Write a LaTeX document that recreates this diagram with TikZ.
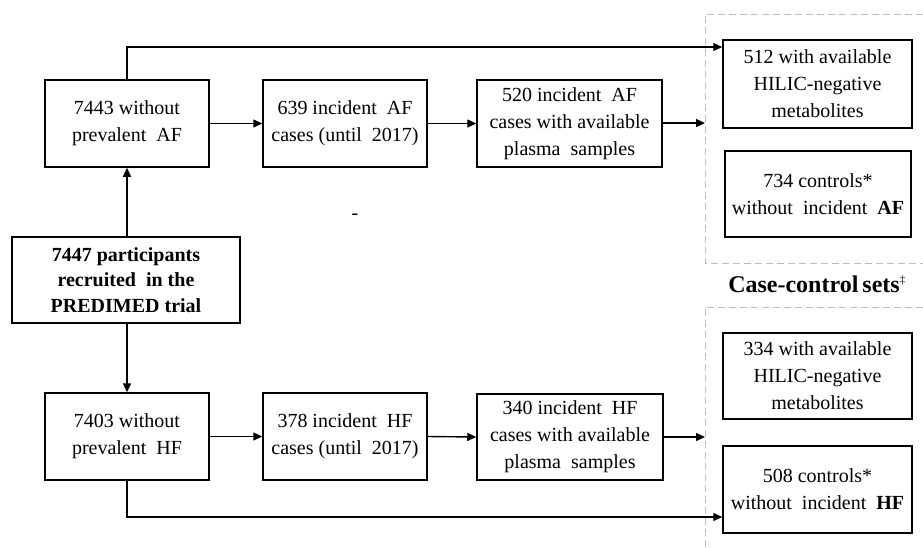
\documentclass[tikz,border=0pt]{standalone}
\usepackage{fontspec}
\setmainfont{Liberation Serif}
\usetikzlibrary{arrows.meta}
\begin{document}
\begin{tikzpicture}[x=1pt,y=-1pt,
  box/.style={draw=black,line width=1.5pt,align=center,inner sep=2pt,
    font=\fontsize{20}{27}\selectfont,minimum height=87pt},
  boldbox/.style={box,font=\fontsize{20}{25.5}\selectfont\bfseries},
  arr/.style={line width=1.4pt,-{Triangle[length=9pt,width=8pt]}},
  region/.style={draw=black!25,line width=0.9pt,dash pattern=on 7pt off 4pt}]
\useasboundingbox (0,0) rectangle (923,547);
% dashed regions
\draw[region] (923,14) -- (705,14) -- (705,263) -- (923,263);
\draw[region] (923,307) -- (705,307) -- (705,550);
% AF row
\node[box,minimum width=164pt] (A1) at (127,123.5) {7443 without\\prevalent\ \ AF};
\node[box,minimum width=164pt] (A2) at (345,123.5) {639 incident\ \ AF\\cases (until\ \ 2017)};
\node[box,minimum width=185pt] (A3) at (569.5,123.5) {520 incident\ \ AF\\cases with\ available\\plasma\ \ samples};
\node[box,minimum width=189pt,minimum height=88pt] (C1) at (817.5,84) {512 with\ available\\HILIC-negative\\metabolites};
\node[box,minimum width=186pt,minimum height=86pt] (C2) at (818,194) {734 controls*\\without\ \ incident\ \ \textbf{AF}};
% participants
\node[boldbox,minimum width=228pt,minimum height=86pt] (P) at (126,280) {7447 participants\\recruited\ \ in the\\PREDIMED trial};
% HF row
\node[box,minimum width=164pt] (B1) at (127,436.5) {7403 without\\prevalent\ \ HF};
\node[box,minimum width=164pt] (B2) at (345,436.5) {378 incident\ \ HF\\cases (until\ \ 2017)};
\node[box,minimum width=186pt,minimum height=86pt] (B3) at (570,437) {340 incident\ \ HF\\cases with\ available\\plasma\ \ samples};
\node[box,minimum width=189pt,minimum height=86pt] (D1) at (817.5,376) {334 with\ available\\HILIC-negative\\metabolites};
\node[box,minimum width=189pt] (D2) at (817.5,489.5) {508 controls*\\without\ \ incident\ \ \textbf{HF}};
% labels
\node[font=\fontsize{24}{28}\selectfont\bfseries,inner sep=0pt] (CC) at (817,284) {Case-control\hspace{4pt}sets\textsuperscript{\normalfont\fontsize{11}{11}\selectfont ‡}};
\node[font=\fontsize{20}{24}\selectfont,inner sep=0pt] (dash) at (355,217) {-};
% coordinates
\coordinate (topy) at (0,47);
\coordinate (boty) at (0,517);
\coordinate (aend) at (705,123);
\coordinate (bend) at (705,437);
% connectors
\draw[arr] (A1.east) -- (A2.west);
\draw[arr] (A2.east) -- (A3.west);
\draw[arr] (A3.east |- aend) -- (aend);
\draw[arr] (A1.north) |- (topy -| C1.west);
\draw[arr] (P.north -| A1.south) -- (A1.south);
\draw[arr] (P.south -| B1.north) -- (B1.north);
\draw[arr] (B1.east) -- (B2.west);
\draw[arr] (B2.east) -- (B3.west);
\draw[arr] (B3.east |- bend) -- (bend);
\draw[arr] (B1.south) |- (boty -| D2.west);
\end{tikzpicture}
\end{document}
